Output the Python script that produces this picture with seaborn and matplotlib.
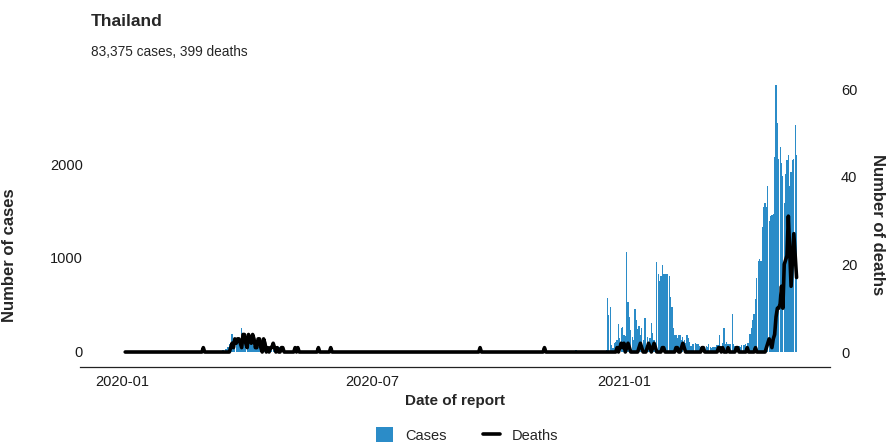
import numpy as np
import pandas as pd
import matplotlib
matplotlib.use("Agg")
import matplotlib.pyplot as plt
import matplotlib.dates as mdates
from matplotlib.ticker import FixedLocator
import seaborn as sns

# ---------------- data (daily) ----------------
START = "2020-01-03"

cases_2020_01 = [0,0,0,0,0,0,0,0,0,0,0,0,1,0,0,0,0,0,0,0,0,4,0,0,1,0,0,3,0,0,0]
cases_2020_02 = [5,0,0,6,0,6,0,0,1,0,0,0,1,0,0,0,0,1,0,0,0,0,0,0,2,0,3,0,2]
cases_2020_03 = [1,0,2,0,1,4,0,1,7,3,
                 15,20,25,30,35,50,90,60,190,110,
                 95,105,110,95,120,250,140,125,110,105,100]
cases_2020_04 = [95,100,90,60,50,110,55,50,45,35,
                 30,35,30,28,28,32,30,27,20,15,
                 13,15,53,15,9,7,9,7,6,4]
cases_2020_05 = [6,3,18,1,3,1,2,3,1,0,1,0,3,0,6,1,2,2,3,0,2,1,2,3,0,1,0,3,1,0,1]
cases_2020_06 = [1,2,1,0,4,2,0,1,3,0,0,4,0,2,0,0,1,0,0,4,3,0,0,0,0,4,1,3,0,0]
cases_2020_07 = [4,0,0,3,2,0,4,0,0,2,7,0,4,0,1,0,6,0,0,2,0,0,5,5,0,0,2,0,0,0,3]
cases_2020_08 = [1,6,1,6,0,0,2,0,1,0,0,0,2,0,1,5,0,1,4,4,0,8,2,0,2,2,0,0,0,1,1]
cases_2020_09 = [6,4,0,5,0,0,3,6,1,0,0,2,0,0,3,1,4,2,5,2,0,1,2,2,1,3,0,1,3,3]
cases_2020_10 = [0,6,0,4,4,2,2,3,2,6,3,3,1,0,3,0,3,1,0,0,7,6,10,2,7,3,0,3,6,9,4]
cases_2020_11 = [0,3,6,4,0,3,0,5,2,2,3,7,4,2,3,1,7,2,3,2,1,4,1,13,18,5,11,8,6,4]
cases_2020_12 = [4,1,3,12,6,12,3,2,11,11,8,4,7,5,11,10,20,
                 575,390,475,70,45,100,110,125,300,145,250,270,180,175]
cases_2021_01 = [1065,530,370,230,160,125,460,335,240,275,
                 180,260,125,365,365,160,100,145,305,200,
                 125,100,955,825,755,810,930,835,835,835,825]
cases_2021_02 = [810,580,475,250,180,185,145,180,180,125,
                 160,125,100,180,150,110,60,90,85,100,
                 80,80,60,55,60,50,55,60]
cases_2021_03 = [55,80,50,45,50,55,50,70,70,180,
                 60,100,250,90,110,90,85,90,400,90,
                 60,55,65,60,55,70,75,70,90,95,100]
cases_2021_04 = [190,250,335,405,560,790,965,985,965,1335,
                 1545,1580,1545,1765,1390,1445,1460,1470,2070,2840,
                 2440,2050,2180,2010,1870,1585,1890,2040,2100,1765]
cases_2021_05 = [1910,2045,2050,2420,2100]

deaths_2020_01 = [0]*31
deaths_2020_02 = [0,0,0,0,0,0,0,0,0,0,0,0,0,0,0,0,0,0,0,0,0,0,0,0,0,0,1,0,0]
deaths_2020_03 = [0,0,0,0,0,0,0,0,0,0,0,0,0,0,0,0,0,
                  1,2,1,3,2,3,3,2,1,4,4,2,1,4]
deaths_2020_04 = [3,2,4,3,1,1,3,3,1,0,3,2,0,1,0,1,1,2,1,0,1,0,0,1,1,0,0,0,0,0]
deaths_2020_05 = [0,0,0,1,0,1,0,0,0,0,0,0,0,0,0,0,0,0,0,0,1,0,0,0,0,0,0,0,0,1,0]
deaths_2020_06 = [0]*30
deaths_2020_07 = [0]*31
deaths_2020_08 = [0]*31
deaths_2020_09 = [0,0,0,0,0,0,0,0,0,0,0,0,0,0,0,1,0,0,0,0,0,0,0,0,0,0,0,0,0,0]
deaths_2020_10 = [0]*31
deaths_2020_11 = [0,1,0,0,0,0,0,0,0,0,0,0,0,0,0,0,0,0,0,0,0,0,0,0,0,0,0,0,0,0]
deaths_2020_12 = [0,0,0,0,0,0,0,0,0,0,0,0,0,0,0,0,0,0,0,0,0,0,0,0,
                  1,0,1,2,1,2,0]
deaths_2021_01 = [1,2,1,0,0,0,0,0,0,1,2,1,0,0,0,1,2,1,0,1,2,1,0,0,0,0,1,1,0,0,0]
deaths_2021_02 = [0,0,0,0,0,1,1,0,0,1,2,1,0,0,0,0,0,0,0,0,0,0,0,0,1,1,0,0]
deaths_2021_03 = [0,0,0,0,0,0,0,0,1,1,0,1,0,0,0,1,0,0,0,0,0,1,1,0,0,0,0,0,0,1,0]
deaths_2021_04 = [0,0,0,0,1,0,0,0,0,0,0,
                  0,1,2,3,2,1,3,4,8,10,10,11,15,10,20,21,22,31,23]
deaths_2021_05 = [15,21,27,22,17]

TITLE = "Thailand"
SUBTITLE = "83,375 cases, 399 deaths"
XLABEL = "Date of report"
YLABEL_L = "Number of cases"
YLABEL_R = "Number of deaths"
LEG_LABELS = ["Cases", "Deaths"]
XTICK_DATES = ["2020-01-01", "2020-07-01", "2021-01-01"]
YTICKS_L = [0, 1000, 2000]
YTICKS_R = [0, 20, 40, 60]

cases = sum([cases_2020_01, cases_2020_02, cases_2020_03, cases_2020_04,
             cases_2020_05, cases_2020_06, cases_2020_07, cases_2020_08,
             cases_2020_09, cases_2020_10, cases_2020_11, cases_2020_12,
             cases_2021_01, cases_2021_02, cases_2021_03, cases_2021_04,
             cases_2021_05], [])
deaths = sum([deaths_2020_01, deaths_2020_02, deaths_2020_03, deaths_2020_04,
              deaths_2020_05, deaths_2020_06, deaths_2020_07, deaths_2020_08,
              deaths_2020_09, deaths_2020_10, deaths_2020_11, deaths_2020_12,
              deaths_2021_01, deaths_2021_02, deaths_2021_03, deaths_2021_04,
              deaths_2021_05], [])
assert len(cases) == len(deaths)
dates = pd.date_range(START, periods=len(cases), freq="D")
df = pd.DataFrame({"x": mdates.date2num(dates), "cases": cases, "deaths": deaths})

# ---------------- style ----------------
sns.set_theme(style="white")
plt.rcParams["font.family"] = ["Liberation Sans", "DejaVu Sans"]
BLUE = "#2b8cc8"

W, H = 893, 443
fig = plt.figure(figsize=(W / 100, H / 100), dpi=100)
L, R, T, B = 80, 830, 68, 367
ax = fig.add_axes([L / W, 1 - B / H, (R - L) / W, (B - T) / H])

sns.barplot(data=df, x="x", y="cases", native_scale=True, color=BLUE,
            saturation=1, width=0.9, errorbar=None, linewidth=0, ax=ax)
ax2 = ax.twinx()
sns.lineplot(data=df, x="x", y="deaths", color="black", linewidth=2.6, ax=ax2)

x0 = mdates.date2num(pd.Timestamp("2020-01-01"))
ax.set_xlim(x0 - 31.0, x0 + 516.4)
ax.set_ylim(-160, 3022)
ax2.set_ylim(-3.42, 64.8)

ax.xaxis.set_major_locator(FixedLocator(mdates.date2num(pd.to_datetime(XTICK_DATES))))
ax.xaxis.set_major_formatter(mdates.DateFormatter("%Y-%m"))
ax.set_yticks(YTICKS_L)
ax2.set_yticks(YTICKS_R)

for a in (ax, ax2):
    for s in a.spines.values():
        s.set_visible(False)
    a.grid(False)
ax.spines["bottom"].set_visible(True)
ax.spines["bottom"].set_color("#222222")
ax.spines["bottom"].set_linewidth(0.9)

ax.tick_params(axis="both", length=0, labelsize=10.5, colors="#1a1a1a")
ax.tick_params(axis="y", pad=-2)
ax.tick_params(axis="x", pad=6)
ax2.tick_params(axis="y", length=0, labelsize=10.5, colors="#1a1a1a", pad=8)

ax.set_xlabel(XLABEL, fontsize=11, fontweight="bold", labelpad=3)
ax.set_ylabel(YLABEL_L, fontsize=12, fontweight="bold")
ax2.set_ylabel(YLABEL_R, fontsize=12, fontweight="bold", rotation=270)
ax.yaxis.set_label_coords((17 - L) / (R - L), (B - 255) / (B - T))
ax2.yaxis.set_label_coords((885 - L) / (R - L), (B - 225) / (B - T))

fig.text(91 / W, 1 - 22 / H, TITLE, fontsize=12.6, fontweight="bold",
         ha="left", va="center")
fig.text(91 / W, 1 - 52 / H, SUBTITLE, fontsize=9.8, ha="left", va="center")

handles = [ax.patches[0], ax2.lines[0]]
fig.legend(handles, LEG_LABELS, loc="center", bbox_to_anchor=(467 / W, 1 - 435 / H),
           ncol=2, frameon=False, fontsize=10.5, handlelength=1.2, handleheight=1.2,
           columnspacing=2.5, handletextpad=0.8)

fig.savefig("out.png", dpi=100)
